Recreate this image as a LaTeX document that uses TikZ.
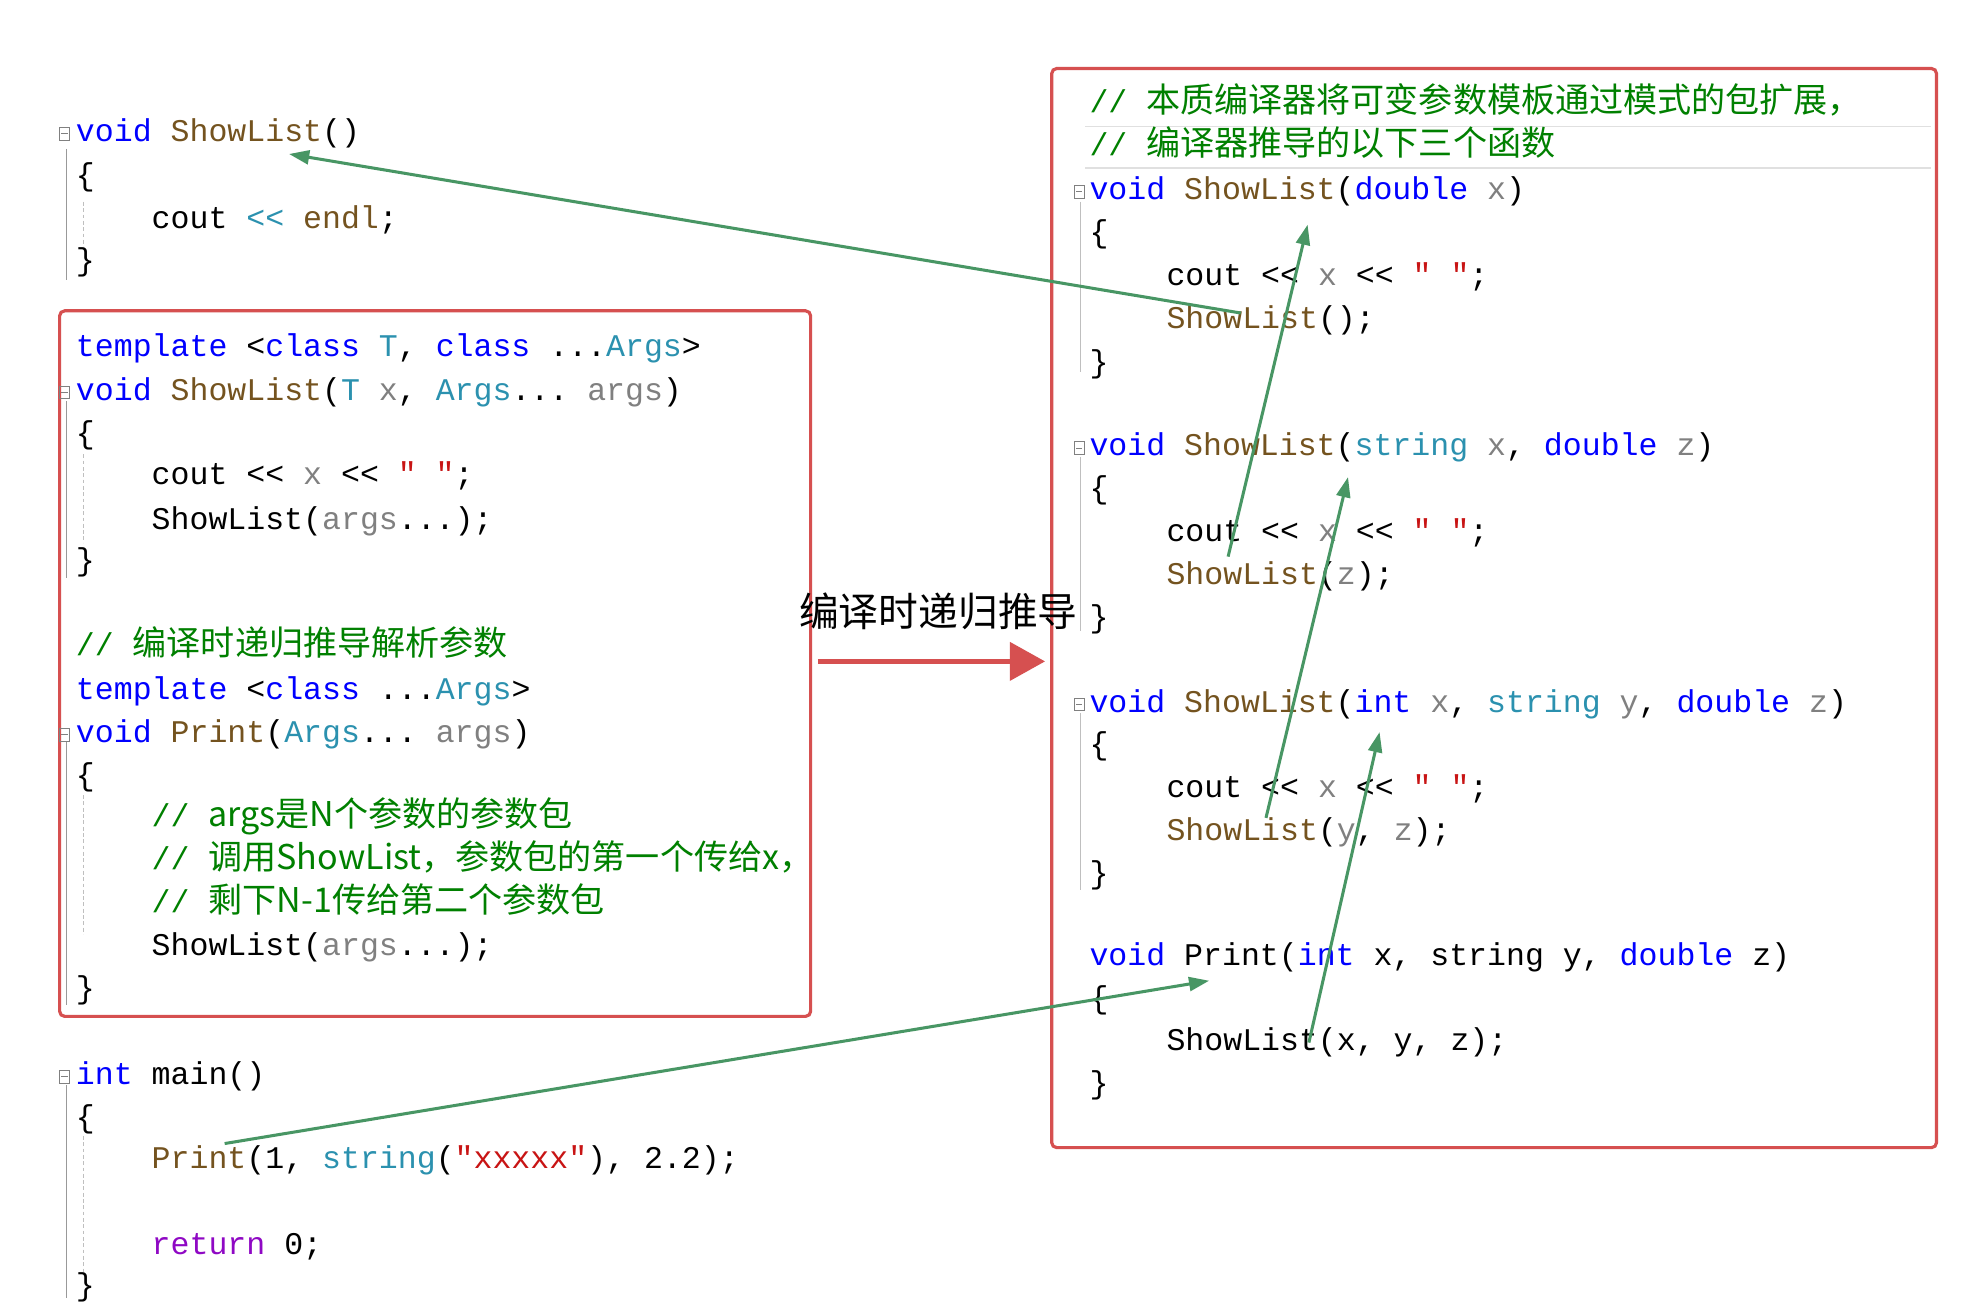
\documentclass[tikz,border=0pt]{standalone}
\usepackage{fontspec}
\setmonofont{Liberation Mono}
\newfontfamily\cjk{Noto Sans CJK SC}
\usetikzlibrary{arrows.meta}
\definecolor{kwc}{RGB}{0,0,255}
\definecolor{fnc}{RGB}{116,83,31}
\definecolor{tyc}{RGB}{43,145,175}
\definecolor{pac}{RGB}{128,128,128}
\definecolor{cmc}{RGB}{0,128,0}
\definecolor{stc}{RGB}{200,20,20}
\definecolor{rtc}{RGB}{143,8,196}
\definecolor{boxred}{RGB}{214,80,80}
\definecolor{arrg}{RGB}{72,150,100}
\newcommand\Kw[1]{\textcolor{kwc}{#1}}
\newcommand\Fn[1]{\textcolor{fnc}{#1}}
\newcommand\Ty[1]{\textcolor{tyc}{#1}}
\newcommand\Pa[1]{\textcolor{pac}{#1}}
\newcommand\Cm[1]{\textcolor{cmc}{// {\cjk\fontsize{27}{30}\selectfont #1}}}
\newcommand\Sq{\textcolor{stc}{"\ "}}
\begin{document}
\begin{tikzpicture}[x=1pt,y=-1pt,
  code/.style={anchor=mid west,inner sep=0pt,yshift=-4pt,font=\ttfamily\fontsize{25}{30}\selectfont},
  box/.style={draw=boxred,line width=2.5pt,rounded corners=4pt},
  garr/.style={draw=arrg,line width=2.4pt,-{Triangle[length=16pt,width=11pt]}},
  guide/.style={draw=black!40,line width=0.8pt}]
\useasboundingbox[fill=white] (0,0) rectangle (1560,1034);
% boxes
\node[box,minimum width=595pt,minimum height=559pt,anchor=north west] (lbox) at (46,245) {};
\node[box,minimum width=701pt,minimum height=855pt,anchor=north west] (rbox) at (832,53) {};
\draw[black!12,line width=1pt] (860,100) -- (1530,100) (860,133) -- (1530,133);
% guides
\foreach \a/\b in {118/222,318/458,588/796,860/1028}
  \draw[guide] (53,\a) -- (53,\b);
\foreach \a/\b in {160/195,360/430,630/740,900/1010}
  \draw[guide,densely dashed,black!25] (66,\a) -- (66,\b);
\foreach \a/\b in {160/295,362/500,565/705}
  \draw[guide,black!25] (856,\a) -- (856,\b);
\foreach \y in {106,311,582,853,152,355,558}
  {\pgfmathsetmacro\xx{\y<200 && \y>140 ? 855 : (\y==355||\y==558 ? 855 : 51)}
   \draw[black!50,line width=0.6pt] (\xx-4,\y-5) rectangle (\xx+4,\y+5) (\xx-2.5,\y) -- (\xx+2.5,\y);}
% left code
\node[code] (l1) at (60,106) {\Kw{void} \Fn{ShowList}()};
\node[code] (l2) at (60,141) {\{};
\node[code] (l3) at (120,175) {cout \Ty{<<} \Fn{endl};};
\node[code] (l4) at (60,208) {\}};
\node[code] (l5) at (60,276) {\Kw{template} <\Kw{class} \Ty{T}, \Kw{class} ...\Ty{Args}>};
\node[code] (l6) at (60,311) {\Kw{void} \Fn{ShowList}(\Ty{T} \Pa{x}, \Ty{Args}... \Pa{args})};
\node[code] (l7) at (60,345) {\{};
\node[code] (l8) at (120,378) {cout << \Pa{x} << \Sq;};
\node[code] (l9) at (120,413) {ShowList(\Pa{args}...);};
\node[code] (l10) at (60,446) {\}};
\node[code] (l11) at (60,513) {\Cm{编译时递归推导解析参数}};
\node[code] (l12) at (60,548) {\Kw{template} <\Kw{class} ...\Ty{Args}>};
\node[code] (l13) at (60,582) {\Kw{void} \Fn{Print}(\Ty{Args}... \Pa{args})};
\node[code] (l14) at (60,616) {\{};
\node[code] (l15) at (120,649) {\Cm{args是N个参数的参数包}};
\node[code] (l16) at (120,683) {\Cm{调用ShowList，参数包的第一个传给x，}};
\node[code] (l17) at (120,717) {\Cm{剩下N-1传给第二个参数包}};
\node[code] (l18) at (120,751) {ShowList(\Pa{args}...);};
\node[code] (l19) at (60,785) {\}};
\node[code] (l20) at (60,853) {\Kw{int} main()};
\node[code] (l21) at (60,887) {\{};
\node[code] (l22) at (120,920) {\Fn{Print}(1, \Ty{string}(\textcolor{stc}{"xxxxx"}), 2.2);};
\node[code] (l23) at (120,988) {\textcolor{rtc}{return} 0;};
\node[code] (l24) at (60,1020) {\}};
% right code
\node[code] (r1) at (863,83) {\Cm{本质编译器将可变参数模板通过模式的包扩展，}};
\node[code] (r2) at (863,117) {\Cm{编译器推导的以下三个函数}};
\node[code] (r3) at (863,152) {\Kw{void} \Fn{ShowList}(\Kw{double} \Pa{x})};
\node[code] (r4) at (863,186) {\{};
\node[code] (r5) at (924,220) {cout << \Pa{x} << \Sq;};
\node[code] (r6) at (924,254) {\Fn{ShowList}();};
\node[code] (r7) at (863,289) {\}};
\node[code] (r8) at (863,355) {\Kw{void} \Fn{ShowList}(\Ty{string} \Pa{x}, \Kw{double} \Pa{z})};
\node[code] (r9) at (863,389) {\{};
\node[code] (r10) at (924,423) {cout << \Pa{x} << \Sq;};
\node[code] (r11) at (924,457) {\Fn{ShowList}(\Pa{z});};
\node[code] (r12) at (863,491) {\}};
\node[code] (r13) at (863,558) {\Kw{void} \Fn{ShowList}(\Kw{int} \Pa{x}, \Ty{string} \Pa{y}, \Kw{double} \Pa{z})};
\node[code] (r14) at (863,592) {\{};
\node[code] (r15) at (924,626) {cout << \Pa{x} << \Sq;};
\node[code] (r16) at (924,660) {\Fn{ShowList}(\Pa{y}, \Pa{z});};
\node[code] (r17) at (863,694) {\}};
\node[code] (r18) at (863,759) {\Kw{void} Print(\Kw{int} x, string y, \Kw{double} z)};
\node[code] (r19) at (863,793) {\{};
\node[code] (r20) at (924,826) {ShowList(x, y, z);};
\node[code] (r21) at (863,860) {\}};
% middle label and arrow
\node[anchor=mid west,inner sep=0pt,font=\cjk\fontsize{31.5}{34}\selectfont] (lab) at (633,494) {编译时递归推导};
\coordinate (ra) at (648,524);
\coordinate (rb) at (828,524);
\draw[draw=boxred,line width=4pt,-{Triangle[length=28pt,width=30pt]}] (ra) -- (rb);
% green arrows
\coordinate (a1s) at (983,248); \coordinate (a1e) at (229,122);
\coordinate (a2s) at (973,441); \coordinate (a2e) at (1036,178);
\coordinate (a3s) at (1003,648); \coordinate (a3e) at (1068,378);
\coordinate (a4s) at (1037,826); \coordinate (a4e) at (1093,580);
\coordinate (a5s) at (178,906); \coordinate (a5e) at (958,777);
\draw[garr] (a1s) -- (a1e);
\draw[garr] (a2s) -- (a2e);
\draw[garr] (a3s) -- (a3e);
\draw[garr] (a4s) -- (a4e);
\draw[garr] (a5s) -- (a5e);
\end{tikzpicture}
\end{document}
